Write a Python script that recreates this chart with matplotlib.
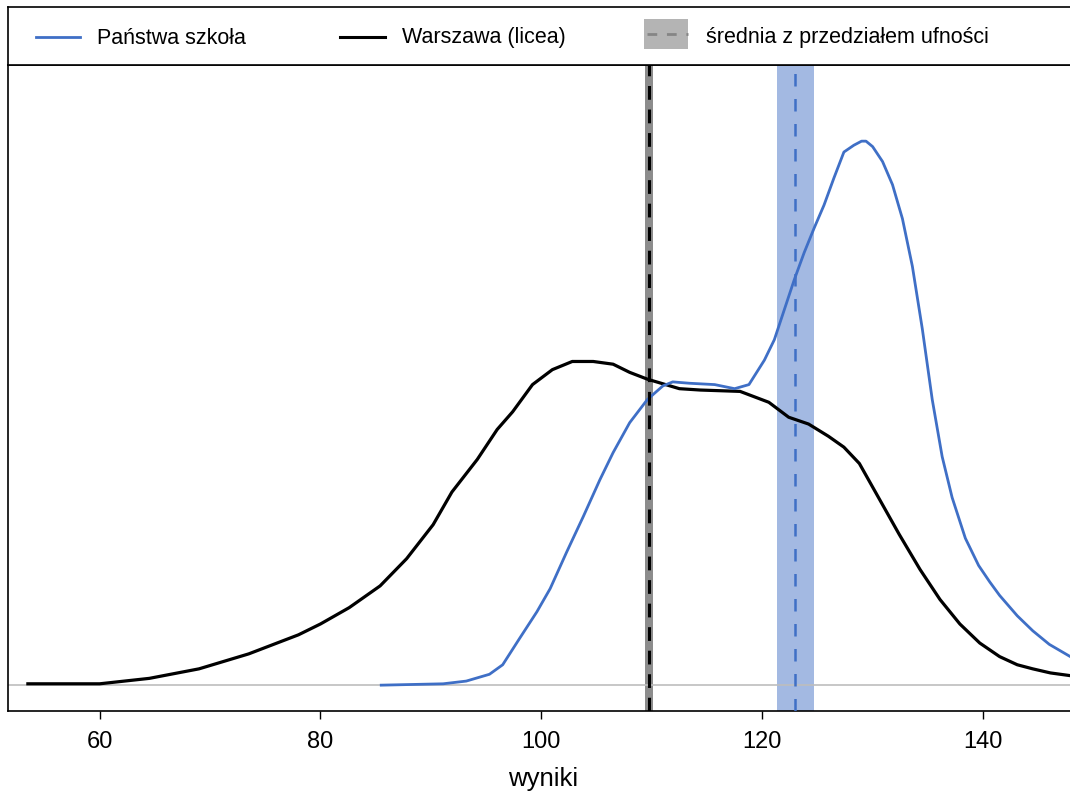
import matplotlib
matplotlib.use("Agg")
import matplotlib.pyplot as plt
from matplotlib.patches import Rectangle

plt.rcParams['font.family'] = ['Liberation Sans', 'DejaVu Sans']

# gęstość wyników - Warszawa (licea)
x_waw = [53.5, 60, 64.5, 69, 73.5, 78, 80, 82.6, 85.4, 87.8, 90.2, 91.9, 94.2, 96.0,
         97.4, 99.2, 101.0, 102.8, 104.7, 106.5, 108.0, 109.6, 112.5, 114.4, 118, 120.6,
         122.4, 124.2, 126, 127.4, 128.8, 130.6, 132.4, 134.3, 136.1, 137.9, 139.7,
         141.5, 143.1, 144.5, 146.1, 147.9]
y_waw = [0.0001, 0.0001, 0.0005, 0.0012, 0.0023, 0.0037, 0.0045, 0.0057, 0.0073, 0.0093,
         0.0118, 0.0142, 0.0166, 0.0188, 0.0201, 0.0221, 0.0232, 0.0238, 0.0238, 0.0236,
         0.0230, 0.0225, 0.0218, 0.0217, 0.0216, 0.0208, 0.0197, 0.0192, 0.0183, 0.0175,
         0.0163, 0.0137, 0.0111, 0.0085, 0.0063, 0.0045, 0.0031, 0.0021, 0.0015, 0.0012,
         0.0009, 0.0007]

# gęstość wyników - Państwa szkoła
x_szk = [85.5, 91.1, 93.2, 95.3, 96.5, 98.0, 99.6, 100.8, 102.3, 103.8, 105.3, 106.5,
         108.0, 109.6, 111.0, 111.9, 113.4, 115.7, 117.5, 118.8, 120.2, 121.1, 122.0,
         122.9, 123.8, 124.7, 125.6, 126.5, 127.4, 128.3, 129.0, 129.4, 130.0, 130.9,
         131.8, 132.7, 133.6, 134.5, 135.4, 136.3, 137.2, 138.4, 139.6, 140.6, 141.5,
         143.1, 144.5, 146.0, 147.9]
y_szk = [0.0, 0.0001, 0.0003, 0.0008, 0.0015, 0.0034, 0.0054, 0.0071, 0.0098, 0.0124,
         0.0151, 0.0171, 0.0193, 0.0210, 0.0220, 0.0223, 0.0222, 0.0221, 0.0218, 0.0221,
         0.0239, 0.0254, 0.0276, 0.0298, 0.0318, 0.0336, 0.0353, 0.0373, 0.0392, 0.0397,
         0.0400, 0.0400, 0.0396, 0.0385, 0.0368, 0.0343, 0.0308, 0.0262, 0.0210, 0.0168,
         0.0138, 0.0108, 0.0088, 0.0076, 0.0066, 0.0051, 0.0040, 0.0030, 0.0021]

# średnie i przedziały ufności
sr_waw, ci_waw = 109.75, (109.4, 110.1)
sr_szk, ci_szk = 122.95, (121.35, 124.7)

niebieski = '#3F6FC6'

W, H = 1070, 803
fig = plt.figure(figsize=(W / 100, H / 100), dpi=100)

# panel wykresu
ax = fig.add_axes([8 / W, (H - 712) / H, 1070 / W, (712 - 66) / H])
ax.set_xlim(51.7, 148.6)
ax.set_ylim(-0.0019, 0.0456)

ax.axvspan(ci_szk[0], ci_szk[1], color='#A3B9E2', lw=0, zorder=1)
ax.axvspan(ci_waw[0], ci_waw[1], color='#8C8C8C', lw=0, zorder=1)
ax.axhline(0, color='#BDBDBD', lw=1.2, zorder=2)
ax.plot(x_waw, y_waw, color='black', lw=2.3, zorder=3)
ax.plot(x_szk, y_szk, color=niebieski, lw=2.0, zorder=3)
ax.axvline(sr_waw, color='black', lw=2.2, dashes=(4.5, 3.2), zorder=4)
ax.axvline(sr_szk, color=niebieski, lw=1.8, dashes=(5, 5), zorder=4)

ax.set_yticks([])
ax.set_xticks([60, 80, 100, 120, 140])
ax.tick_params(axis='x', labelsize=17, length=6, width=1, pad=8)
ax.set_xlabel('wyniki', fontsize=18.5, labelpad=10)
for s in ax.spines.values():
    s.set_linewidth(1.2)

# legenda na górze
lg = fig.add_axes([8 / W, (H - 66) / H, 1070 / W, (66 - 8) / H])
lg.set_xlim(8, 8 + 1070)
lg.set_ylim(66, 8)
lg.set_xticks([])
lg.set_yticks([])
for s in lg.spines.values():
    s.set_linewidth(1.2)

yc = 38
lg.plot([36, 80], [yc, yc], color=niebieski, lw=2)
lg.text(97, yc, 'Państwa szkoła', fontsize=15.5, va='center')
lg.plot([340, 385], [yc, yc], color='black', lw=2.2)
lg.text(402, yc, 'Warszawa (licea)', fontsize=15.5, va='center')
lg.add_patch(Rectangle((644, 20), 44, 30, color='#B4B4B4', lw=0))
lg.plot([647, 688], [35, 35], color='#858585', lw=2, dashes=(3.5, 3.5))
lg.text(706, yc, 'średnia z przedziałem ufności', fontsize=15.5, va='center')

fig.savefig('out.png', dpi=100)
